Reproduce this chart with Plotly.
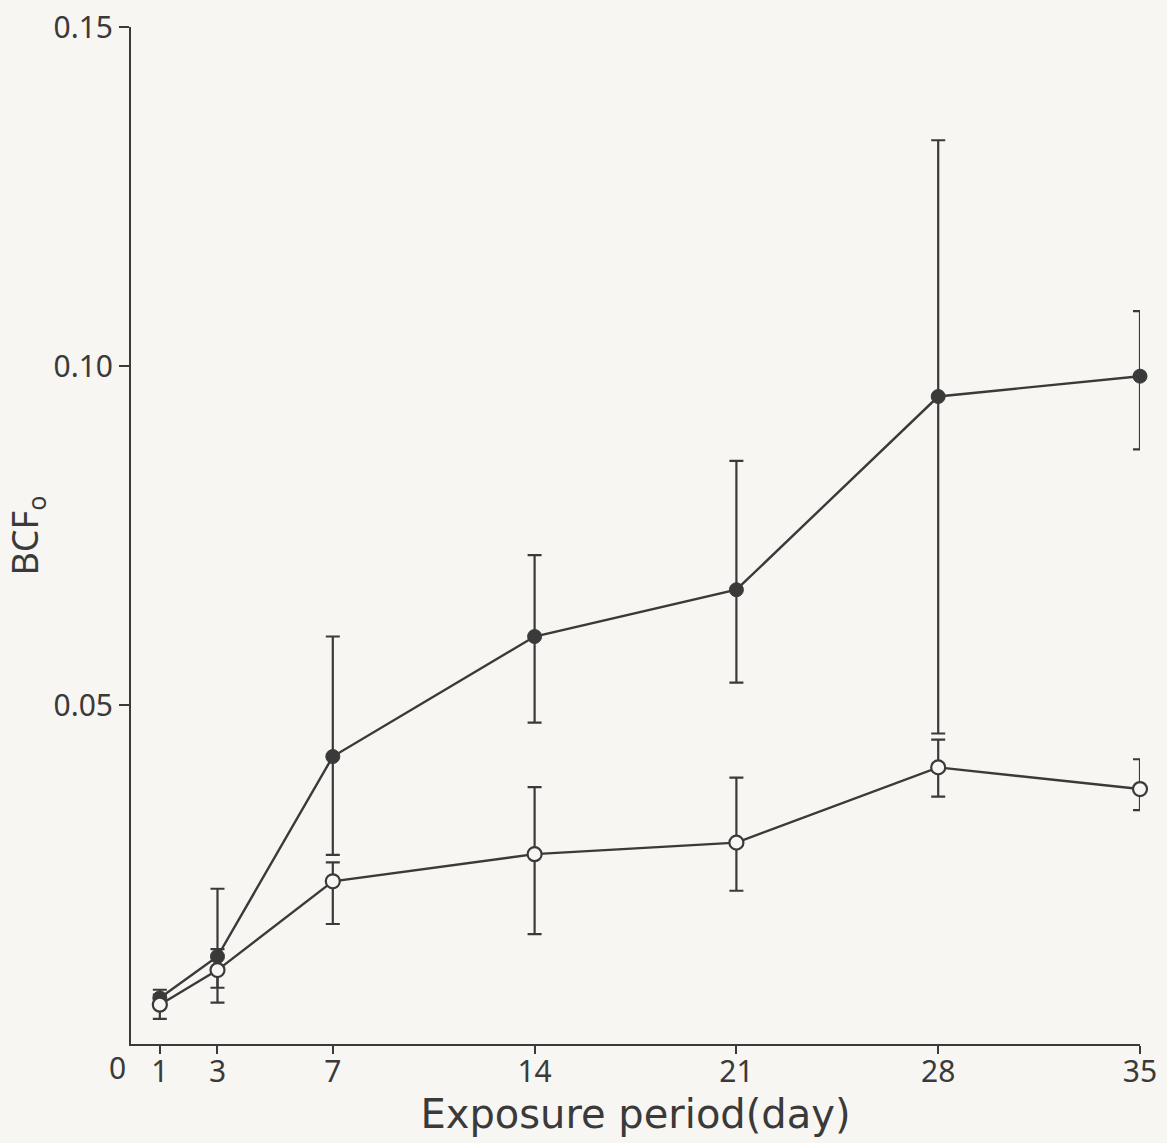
import plotly.graph_objects as go

# Exposure period (days)
days = [1, 3, 7, 14, 21, 28, 35]

# BCFo, closed circles
bcf_closed = [0.0068, 0.0129, 0.0424, 0.0601, 0.0670, 0.0955, 0.0985]
closed_err_plus = [0.0012, 0.0100, 0.0177, 0.0120, 0.0190, 0.0378, 0.0096]
closed_err_minus = [0.0008, 0.0068, 0.0145, 0.0127, 0.0137, 0.0497, 0.0108]

# BCFo, open circles
bcf_open = [0.0058, 0.0109, 0.0240, 0.0280, 0.0297, 0.0408, 0.0376]
open_err_plus = [0.0015, 0.0031, 0.0028, 0.0099, 0.0096, 0.0041, 0.0044]
open_err_minus = [0.0021, 0.0026, 0.0063, 0.0118, 0.0071, 0.0043, 0.0031]

x_tick_vals = [1, 3, 7, 14, 21, 28, 35]
x_tick_text = ["1", "3", "7", "14", "21", "28", "35"]
origin_label = "0"
y_tick_vals = [0.05, 0.10, 0.15]
y_tick_text = ["0.05", "0.10", "0.15"]

INK = "#3a3a3a"
PAPER = "#f8f6f2"
FONT = "Noto Sans"

fig = go.Figure()

fig.add_trace(go.Scatter(
    x=days, y=bcf_closed, mode="lines+markers", cliponaxis=False,
    line=dict(color=INK, width=2.4),
    marker=dict(symbol="circle", size=14, color=INK, line=dict(color=INK, width=1)),
    error_y=dict(type="data", symmetric=False, array=closed_err_plus,
                 arrayminus=closed_err_minus, color=INK, thickness=2.2, width=7),
    showlegend=False,
))

fig.add_trace(go.Scatter(
    x=days, y=bcf_open, mode="lines+markers", cliponaxis=False,
    line=dict(color=INK, width=2.4),
    marker=dict(symbol="circle", size=14, color=PAPER, line=dict(color=INK, width=2.2)),
    error_y=dict(type="data", symmetric=False, array=open_err_plus,
                 arrayminus=open_err_minus, color=INK, thickness=2.2, width=7),
    showlegend=False,
))

# origin label sits just left of the corner, like the hand-drawn axis
fig.add_annotation(
    x=0, y=0, xref="x", yref="y", text=origin_label, showarrow=False,
    xanchor="center", yanchor="top", xshift=-14, yshift=-1,
    font=dict(size=30, family=FONT, color=INK),
)

fig.update_layout(
    width=1167, height=1143,
    margin=dict(l=131, r=27, t=27, b=99),
    paper_bgcolor=PAPER, plot_bgcolor=PAPER,
    font=dict(family=FONT, color=INK, size=30),
    xaxis=dict(
        range=[0, 35], tickvals=x_tick_vals, ticktext=x_tick_text,
        showline=True, linecolor=INK, linewidth=2,
        ticks="outside", ticklen=8, tickwidth=2, tickcolor=INK,
        showgrid=False, zeroline=False, automargin=False,
        ticklabelstandoff=-8,
        tickfont=dict(size=30, family=FONT, color=INK),
        title=dict(text="Exposure period(day)", standoff=0,
                   font=dict(size=40, family="DejaVu Sans", color=INK)),
    ),
    yaxis=dict(
        range=[0, 0.15], tickvals=y_tick_vals, ticktext=y_tick_text,
        showline=True, linecolor=INK, linewidth=2,
        ticks="outside", ticklen=10, tickwidth=2, tickcolor=INK,
        showgrid=False, zeroline=False, automargin=False,
        tickfont=dict(size=30, family=FONT, color=INK),
        title=dict(text="BCF<sub>o</sub>", standoff=22,
                   font=dict(size=36, family=FONT, color=INK)),
    ),
)

fig.write_html("out.html")
